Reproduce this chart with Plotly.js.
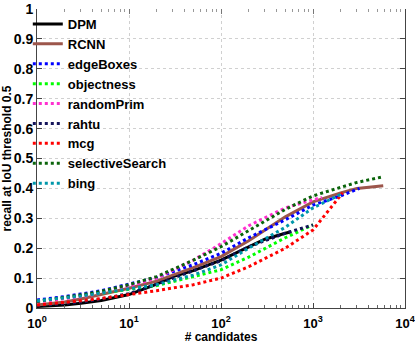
<!DOCTYPE html>
<html>
<head>
<meta charset="utf-8">
<script src="https://cdn.plot.ly/plotly-3.0.1.min.js"></script>
<style>html,body{margin:0;padding:0;background:#fff;}#chart{width:415px;height:344px;}</style>
</head>
<body>
<div id="chart"></div>
<script>
// ---- data ----
var dpmX = [1, 2, 3, 5, 10, 20, 30, 50, 100, 200, 300, 500, 580];
var dpmY = [0.005, 0.010, 0.016, 0.025, 0.045, 0.080, 0.105, 0.125, 0.160, 0.205, 0.230, 0.250, 0.255];

var rcnnX = [1, 2, 3, 5, 10, 20, 50, 100, 200, 500, 1000, 2000, 3000, 5800];
var rcnnY = [0.010, 0.020, 0.030, 0.045, 0.066, 0.090, 0.135, 0.172, 0.225, 0.305, 0.355, 0.385, 0.400, 0.409];

var edgeX = [1, 2, 3, 5, 10, 20, 50, 100, 200, 500, 1000, 2000, 3200];
var edgeY = [0.027, 0.038, 0.047, 0.058, 0.080, 0.102, 0.145, 0.183, 0.235, 0.295, 0.344, 0.375, 0.400];

var objX = [1, 2, 3, 5, 10, 20, 50, 100, 200, 500, 1000];
var objY = [0.022, 0.032, 0.040, 0.050, 0.062, 0.075, 0.105, 0.128, 0.170, 0.235, 0.278];

var rpX = [1, 2, 3, 5, 10, 20, 50, 100, 200, 500, 1000, 1250];
var rpY = [0.020, 0.030, 0.038, 0.050, 0.073, 0.100, 0.160, 0.215, 0.275, 0.335, 0.360, 0.370];

var rahtuX = [1, 2, 3, 5, 10, 20, 50, 100, 200, 500, 1000];
var rahtuY = [0.008, 0.014, 0.020, 0.030, 0.048, 0.080, 0.123, 0.158, 0.205, 0.250, 0.278];

var mcgX = [1, 2, 3, 5, 10, 20, 50, 100, 200, 500, 1000, 1500, 2100];
var mcgY = [0.010, 0.018, 0.024, 0.032, 0.045, 0.058, 0.078, 0.100, 0.138, 0.200, 0.261, 0.330, 0.385];

var ssX = [1, 2, 3, 5, 10, 20, 50, 100, 200, 500, 1000, 2000, 3000, 5600];
var ssY = [0.022, 0.035, 0.044, 0.056, 0.078, 0.105, 0.160, 0.205, 0.260, 0.330, 0.375, 0.405, 0.420, 0.438];

var bingX = [1, 2, 3, 5, 10, 20, 50, 100, 200, 500, 1000, 2000];
var bingY = [0.024, 0.033, 0.040, 0.050, 0.064, 0.078, 0.110, 0.144, 0.200, 0.270, 0.335, 0.380];

var xTickVals = [1, 10, 100, 1000, 10000];
var xTickText = ['10<sup>0</sup>', '10<sup>1</sup>', '10<sup>2</sup>', '10<sup>3</sup>', '10<sup>4</sup>'];
var yTickVals = [0, 0.1, 0.2, 0.3, 0.4, 0.5, 0.6, 0.7, 0.8, 0.9, 1];
var yTickText = ['0', '0.1', '0.2', '0.3', '0.4', '0.5', '0.6', '0.7', '0.8', '0.9', '1'];

// ---- traces ----
function tr(name, x, y, color, dash) {
  return {type: 'scatter', mode: 'lines', name: name, x: x, y: y,
          line: {color: color, width: 3, dash: dash}};
}
var data = [
  tr('DPM', dpmX, dpmY, '#000000', 'solid'),
  tr('RCNN', rcnnX, rcnnY, '#9c564b', 'solid'),
  tr('edgeBoxes', edgeX, edgeY, '#0000ff', 'dot'),
  tr('objectness', objX, objY, '#00ff00', 'dot'),
  tr('randomPrim', rpX, rpY, '#ff2fd0', 'dot'),
  tr('rahtu', rahtuX, rahtuY, '#14145a', 'dot'),
  tr('mcg', mcgX, mcgY, '#ff0000', 'dot'),
  tr('selectiveSearch', ssX, ssY, '#0a640a', 'dot'),
  tr('bing', bingX, bingY, '#0097aa', 'dot'),
  {type: 'scatter', mode: 'lines', x: [null], y: [null], xaxis: 'x2', yaxis: 'y', showlegend: false, hoverinfo: 'skip'}
];

var F = 'Liberation Sans, Arial, sans-serif';
var layout = {
  width: 415, height: 344,
  margin: {l: 37, r: 10, t: 9, b: 36},
  paper_bgcolor: '#fff', plot_bgcolor: '#fff',
  font: {family: F, color: '#000'},
  showlegend: true,
  legend: {x: -0.025, y: 1, xanchor: 'left', yanchor: 'top',
           bgcolor: 'rgba(0,0,0,0)', borderwidth: 0,
           font: {family: F, size: 13, color: '#000', weight: 'bold'}},
  xaxis: {type: 'log', range: [0, 4], tickmode: 'array', tickvals: xTickVals, ticktext: xTickText,
          ticklabeloverflow: 'allow', ticklabelstandoff: 3,
          ticks: 'inside', ticklen: 5, tickcolor: '#444', showline: true, linecolor: '#444', linewidth: 1,
          showgrid: true, gridcolor: '#d0d0d0', griddash: 'dot', gridwidth: 1, zeroline: false,
          minor: {ticks: 'inside', ticklen: 3, tickcolor: '#666', dtick: 'D1', showgrid: false},
          tickfont: {family: F, size: 13, weight: 'bold', color: '#000'},
          title: {text: '# candidates', font: {family: F, size: 12, weight: 'bold', color: '#000'}, standoff: 1}},
  xaxis2: {type: 'log', range: [0, 4], overlaying: 'x', side: 'top', anchor: 'y',
           tickmode: 'array', tickvals: xTickVals, showticklabels: false,
           ticks: 'inside', ticklen: 5, tickcolor: '#777', showline: false, showgrid: false, zeroline: false,
           minor: {ticks: 'inside', ticklen: 3, tickcolor: '#999', dtick: 'D1', showgrid: false}},
  yaxis: {range: [0, 1], tickmode: 'array', tickvals: yTickVals, ticktext: yTickText,
          ticks: 'inside', ticklen: 5, tickcolor: '#444', showline: true, linecolor: '#444', linewidth: 1,
          mirror: 'ticks',
          showgrid: true, gridcolor: '#d0d0d0', griddash: 'dot', gridwidth: 1, zeroline: false,
          tickfont: {family: F, size: 14, weight: 'bold', color: '#000'},
          title: {text: 'recall at IoU threshold 0.5', font: {family: F, size: 12, weight: 'bold', color: '#000'}, standoff: 2}}
};

Plotly.newPlot('chart', data, layout, {displayModeBar: false, staticPlot: true});
</script>
</body>
</html>
